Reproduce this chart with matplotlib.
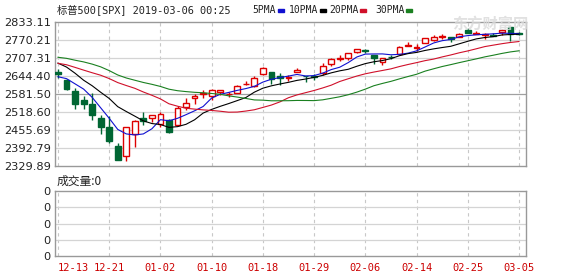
import numpy as np
import matplotlib
matplotlib.use("Agg")
import matplotlib.pyplot as plt
from matplotlib.patches import Rectangle

# ---------------------------------------------------------
# Daten: S&P 500 Tageskerzen 2018-12-13 .. 2019-03-05
# ---------------------------------------------------------
dates = ["12-13", "12-14", "12-17", "12-18", "12-19", "12-20", "12-21", "12-24",
         "12-26", "12-27", "12-28", "12-31", "01-02", "01-03", "01-04", "01-07",
         "01-08", "01-09", "01-10", "01-11", "01-14", "01-15", "01-16", "01-17",
         "01-18", "01-22", "01-23", "01-24", "01-25", "01-28", "01-29", "01-30",
         "01-31", "02-01", "02-04", "02-05", "02-06", "02-07", "02-08", "02-11",
         "02-12", "02-13", "02-14", "02-15", "02-19", "02-20", "02-21", "02-22",
         "02-25", "02-26", "02-27", "02-28", "03-01", "03-04", "03-05"]

opens = [2658.70, 2629.68, 2590.75, 2559.90, 2547.05, 2496.77, 2465.38, 2400.56,
         2363.12, 2442.50, 2498.77, 2498.94, 2476.96, 2491.92, 2474.33, 2535.61,
         2568.11, 2580.00, 2573.51, 2588.11, 2580.31, 2585.10, 2614.75, 2609.28,
         2651.27, 2657.88, 2643.48, 2638.84, 2657.44, 2644.97, 2644.89, 2653.62,
         2685.49, 2702.32, 2706.49, 2728.34, 2735.05, 2717.53, 2692.36, 2712.40,
         2722.61, 2750.30, 2743.50, 2760.24, 2769.28, 2779.05, 2780.67, 2780.24,
         2804.35, 2792.36, 2787.50, 2788.11, 2798.22, 2814.37, 2794.41]
highs = [2670.19, 2635.07, 2601.13, 2573.99, 2585.29, 2509.63, 2504.41, 2410.34,
         2467.76, 2489.10, 2520.27, 2509.24, 2519.49, 2493.14, 2538.07, 2566.16,
         2579.82, 2595.32, 2597.82, 2596.27, 2589.32, 2613.08, 2625.76, 2645.06,
         2675.47, 2657.88, 2653.19, 2647.20, 2672.38, 2644.97, 2650.93, 2690.44,
         2708.95, 2716.66, 2724.99, 2738.98, 2738.08, 2719.32, 2708.07, 2718.05,
         2748.19, 2761.85, 2757.90, 2775.66, 2787.33, 2789.88, 2781.58, 2794.20,
         2813.49, 2803.12, 2795.76, 2793.73, 2808.02, 2816.88, 2796.44]
lows = [2637.27, 2593.84, 2530.54, 2528.71, 2488.96, 2441.18, 2408.55, 2351.10,
        2346.58, 2397.94, 2472.89, 2482.82, 2467.47, 2443.96, 2474.33, 2524.56,
        2547.56, 2568.89, 2562.02, 2577.40, 2570.41, 2585.10, 2612.68, 2606.36,
        2647.58, 2617.27, 2612.86, 2627.01, 2657.33, 2624.06, 2631.05, 2648.34,
        2678.65, 2696.88, 2698.75, 2724.03, 2724.15, 2687.26, 2681.83, 2703.79,
        2722.61, 2748.63, 2731.23, 2760.24, 2767.29, 2774.06, 2764.55, 2779.11,
        2794.99, 2789.47, 2775.13, 2782.51, 2787.38, 2767.66, 2785.96]
closes = [2650.54, 2599.95, 2545.94, 2546.16, 2506.96, 2467.42, 2416.62, 2351.10,
          2467.70, 2488.83, 2485.74, 2506.85, 2510.03, 2447.89, 2531.94, 2549.69,
          2574.41, 2584.96, 2596.64, 2596.26, 2582.61, 2610.30, 2616.10, 2635.96,
          2670.71, 2632.90, 2638.70, 2642.33, 2664.76, 2643.85, 2640.00, 2681.05,
          2704.10, 2706.53, 2724.87, 2737.70, 2731.61, 2706.05, 2707.88, 2709.80,
          2744.73, 2753.03, 2745.73, 2775.60, 2779.76, 2784.70, 2774.88, 2792.67,
          2796.11, 2793.90, 2792.38, 2784.49, 2803.69, 2792.81, 2789.65]

ma5 = [2641.8, 2635.2, 2616.9, 2598.7, 2569.9, 2533.3, 2496.6, 2457.7, 2442.0, 2438.3,
       2442.0, 2460.0, 2491.8, 2487.9, 2496.5, 2509.3, 2522.8, 2537.8, 2567.5, 2580.4,
       2587.0, 2594.2, 2600.4, 2608.2, 2623.1, 2633.2, 2638.9, 2644.1, 2649.9, 2644.5,
       2645.9, 2654.4, 2666.8, 2675.1, 2691.3, 2710.8, 2721.0, 2721.4, 2721.6, 2718.6,
       2720.0, 2724.3, 2732.2, 2745.8, 2759.8, 2767.8, 2772.1, 2781.5, 2785.6, 2788.5,
       2790.0, 2791.9, 2794.1, 2793.5, 2792.6]
ma10 = [2689.4, 2675.6, 2654.1, 2629.7, 2610.4, 2587.6, 2565.9, 2537.3, 2520.3, 2504.1,
        2487.6, 2478.3, 2474.7, 2464.9, 2467.4, 2475.6, 2491.4, 2514.8, 2527.7, 2538.4,
        2548.1, 2558.5, 2569.1, 2587.9, 2601.8, 2610.1, 2616.5, 2622.3, 2629.1, 2633.8,
        2639.6, 2646.6, 2655.4, 2662.5, 2667.9, 2678.4, 2687.7, 2694.1, 2698.4, 2705.0,
        2715.4, 2722.6, 2726.8, 2733.7, 2739.2, 2743.9, 2748.2, 2756.9, 2765.7, 2774.1,
        2778.9, 2782.0, 2787.8, 2789.5, 2790.5]
ma20 = [2688.8, 2683.7, 2674.5, 2665.0, 2655.8, 2647.1, 2635.4, 2621.4, 2611.1, 2601.4,
        2588.5, 2577.0, 2564.4, 2547.3, 2538.9, 2531.6, 2528.7, 2526.0, 2524.0, 2521.3,
        2517.9, 2518.4, 2521.9, 2526.4, 2534.6, 2542.9, 2554.0, 2568.5, 2578.4, 2586.1,
        2593.8, 2602.6, 2612.3, 2625.2, 2634.8, 2644.2, 2652.1, 2658.2, 2663.7, 2669.4,
        2677.5, 2684.6, 2691.1, 2698.1, 2703.5, 2711.1, 2717.9, 2725.5, 2732.0, 2739.5,
        2747.2, 2752.3, 2757.3, 2761.6, 2764.9]
ma30 = [2709.8, 2706.1, 2699.6, 2693.7, 2686.0, 2676.4, 2663.2, 2648.0, 2637.5, 2629.6,
        2621.8, 2615.3, 2607.9, 2598.3, 2593.0, 2589.9, 2587.4, 2585.8, 2583.3, 2580.4,
        2575.0, 2570.8, 2566.0, 2560.8, 2559.9, 2557.8, 2557.9, 2558.1, 2559.0, 2558.8,
        2558.4, 2561.1, 2566.4, 2571.8, 2579.0, 2588.0, 2598.5, 2610.4, 2618.4, 2625.7,
        2634.4, 2642.6, 2650.4, 2661.4, 2669.6, 2677.5, 2684.1, 2691.1, 2697.7, 2704.3,
        2711.3, 2717.1, 2723.3, 2728.6, 2732.5]

price_ticks = [2329.89, 2392.79, 2455.69, 2518.60, 2581.50, 2644.40, 2707.31, 2770.21, 2833.11]
ref_price = 2581.50
date_ticks = ["12-13", "12-21", "01-02", "01-10", "01-18", "01-29", "02-06", "02-14", "02-25", "03-05"]
vol_ticks = [0, 1, 2, 3, 4]

# ---------------------------------------------------------
# Farben / Layout
# ---------------------------------------------------------
RED = "#dd0000"
GREEN = "#006633"
GRID = "#d4d4d4"
FRAME = "#999999"
W, H = 578, 276
mono = ["DejaVu Sans Mono", "Noto Sans CJK SC"]

def fx(px):
    return px / W

def fy(py):
    return 1 - py / H

fig = plt.figure(figsize=(W / 100, H / 100), dpi=100)
ax = fig.add_axes([fx(55), fy(166), fx(526 - 55), (166 - 22) / H])
axv = fig.add_axes([fx(55), fy(256), fx(526 - 55), (256 - 191) / H])

x = np.arange(len(dates))
o = np.array(opens)
c = np.array(closes)
up = c >= o
tick_pos = [dates.index(d) for d in date_ticks]

# ---------------------------------------------------------
# Kerzen
# ---------------------------------------------------------
cols = np.where(up, RED, GREEN)
ax.vlines(x, lows, highs, colors=cols, linewidth=1, zorder=3)
bodies = np.maximum(np.abs(c - o), 0.6)
ax.bar(x, bodies, bottom=np.minimum(o, c), width=0.68,
       facecolor=np.where(up, "white", GREEN), edgecolor=cols,
       linewidth=1, zorder=4)

# Gleitende Durchschnitte
ax.plot(x, ma5, color="#1010d0", lw=0.8, zorder=5)
ax.plot(x, ma10, color="black", lw=0.8, zorder=5)
ax.plot(x, ma20, color="#d0102a", lw=0.8, zorder=5)
ax.plot(x, ma30, color="#1a8020", lw=0.8, zorder=5)

# ---------------------------------------------------------
# Achsen
# ---------------------------------------------------------
for a in (ax, axv):
    a.set_xlim(-0.35, len(dates) - 1 + 0.82)
    a.set_xticks(tick_pos)
    a.tick_params(length=0)
    for sp in a.spines.values():
        sp.set_color(FRAME)
        sp.set_linewidth(1)
    for p in tick_pos:
        a.axvline(p, color="#c8c8c8", lw=0.8, ls=(0, (3, 3)), zorder=1)

ax.set_ylim(price_ticks[0], price_ticks[-1])
ax.set_yticks(price_ticks)
ax.set_yticklabels(["%.2f" % v for v in price_ticks], fontsize=8.2, color="#222222")
ax.tick_params(axis="y", pad=3)
ax.set_xticklabels([])
for v in price_ticks[1:-1]:
    ax.axhline(v, color="#a0a0a0" if v == ref_price else GRID, lw=0.9, zorder=1)

axv.set_ylim(vol_ticks[0], vol_ticks[-1])
axv.set_yticks(vol_ticks)
axv.set_yticklabels(["0"] * len(vol_ticks), fontsize=8.2, color="#222222")
axv.tick_params(axis="y", pad=3)
for v in vol_ticks[1:-1]:
    axv.axhline(v, color=GRID, lw=0.9, zorder=1)
axv.set_xticklabels(date_ticks, fontsize=7.5, color="#cc0000", family=mono)
axv.tick_params(axis="x", pad=5)
axv.get_xticklabels()[0].set_horizontalalignment("left")

# ---------------------------------------------------------
# Texte
# ---------------------------------------------------------
fig.text(fx(57), fy(10), "标普500[SPX] 2019-03-06 00:25", fontsize=7.4,
         family=mono, va="center", ha="left", color="#222222")

renderer = fig.canvas.get_renderer()
legend = [("5PMA", 252, "#1010d0"), ("10PMA", 289, "black"),
          ("20PMA", 329, "#d0102a"), ("30PMA", 375, "#1a8020")]
for lbl, px, col in legend:
    t = fig.text(fx(px), fy(10), lbl, fontsize=7.0, family=mono,
                 va="center", ha="left", color="#222222")
    x1 = t.get_window_extent(renderer).x1
    fig.add_artist(Rectangle((x1 / W + fx(2), fy(12)), fx(6), 3 / H,
                             transform=fig.transFigure, color=col))

fig.text(fx(57), fy(181), "成交量:0", fontsize=8.5,
         family=["Noto Sans CJK SC", "DejaVu Sans"], va="center", color="#222222")

# Wasserzeichen
fig.text(fx(452), fy(24), "东方财富网", fontsize=11, fontweight="bold",
         family=["Noto Sans CJK SC"], color="#dadada", alpha=0.8,
         va="center", ha="left", zorder=0)

fig.savefig("out.png", dpi=100)
